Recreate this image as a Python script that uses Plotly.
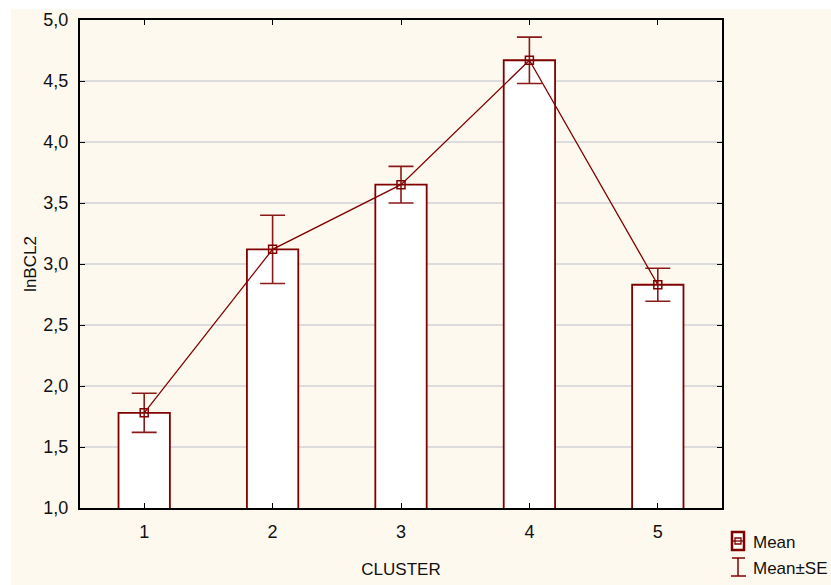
import plotly.graph_objects as go

clusters = ["1", "2", "3", "4", "5"]
means = [1.78, 3.12, 3.65, 4.67, 2.83]
se = [0.16, 0.28, 0.15, 0.19, 0.135]
y_ticks = [1.0, 1.5, 2.0, 2.5, 3.0, 3.5, 4.0, 4.5, 5.0]

RED = "#800000"
FONT = "Liberation Sans, Arial, sans-serif"

W, H = 831, 585
L, R, T, B = 80, 109, 20, 77
pw, ph = W - L - R, H - T - B

def px_x(p):
    return (p - L) / pw

def px_y(p):
    return 1 - (p - T) / ph

fig = go.Figure()
fig.add_trace(go.Bar(
    x=clusters, y=means, width=0.4,
    marker=dict(color="white", line=dict(color=RED, width=1.8)),
    showlegend=False, hoverinfo="skip",
))
fig.add_trace(go.Scatter(
    x=clusters, y=means, mode="lines+markers",
    line=dict(color=RED, width=1.3),
    marker=dict(symbol="square-open", size=8, color=RED, line=dict(width=1.5)),
    error_y=dict(type="data", array=se, visible=True, color="#8B1A1A",
                 thickness=1.6, width=12.5),
    showlegend=False,
))

shapes = [
    dict(type="rect", xref="paper", yref="paper", layer="below",
         x0=px_x(11), x1=px_x(W + 5), y0=px_y(H + 5), y1=px_y(9),
         fillcolor="#FEF9EE", line=dict(width=0)),
    # legend: Mean box
    dict(type="rect", xref="paper", yref="paper",
         x0=px_x(732), x1=px_x(744), y0=px_y(550), y1=px_y(532),
         fillcolor="white", line=dict(color=RED, width=2.5)),
    dict(type="rect", xref="paper", yref="paper",
         x0=px_x(735), x1=px_x(741), y0=px_y(544), y1=px_y(538),
         line=dict(color=RED, width=1.3)),
    dict(type="line", xref="paper", yref="paper",
         x0=px_x(732), x1=px_x(744), y0=px_y(541), y1=px_y(541),
         line=dict(color=RED, width=1.3)),
    # legend: I-shape
    dict(type="line", xref="paper", yref="paper",
         x0=px_x(738), x1=px_x(738), y0=px_y(558), y1=px_y(576),
         line=dict(color=RED, width=1.5)),
    dict(type="line", xref="paper", yref="paper",
         x0=px_x(732), x1=px_x(745), y0=px_y(558), y1=px_y(558),
         line=dict(color=RED, width=1.5)),
    dict(type="line", xref="paper", yref="paper",
         x0=px_x(731), x1=px_x(746), y0=px_y(576), y1=px_y(576),
         line=dict(color=RED, width=1.5)),
]

annotations = [
    dict(text="Mean", xref="paper", yref="paper", x=px_x(751), y=px_y(542),
         xanchor="left", yanchor="middle", showarrow=False,
         font=dict(family=FONT, size=17, color="#111")),
    dict(text="Mean±SE", xref="paper", yref="paper", x=px_x(751), y=px_y(568),
         xanchor="left", yanchor="middle", showarrow=False,
         font=dict(family=FONT, size=17, color="#111")),
]

fig.update_layout(
    width=W, height=H,
    margin=dict(l=L, r=R, t=T, b=B, pad=0, autoexpand=False),
    paper_bgcolor="white", plot_bgcolor="white",
    separators=", ",
    font=dict(family=FONT, size=18, color="#111"),
    shapes=shapes, annotations=annotations,
)
fig.update_xaxes(
    type="category", range=[-0.5, 4.5], automargin=False,
    showline=True, linecolor="black", linewidth=2, mirror="ticks",
    ticks="inside", ticklen=5, tickcolor="black",
    showgrid=False, zeroline=False, ticklabelstandoff=6,
    title=dict(text="CLUSTER", standoff=23, font=dict(size=17)),
    tickfont=dict(size=18),
)
fig.update_yaxes(
    range=[1.0, 5.0], tickvals=y_ticks, tickformat=".1f", automargin=False,
    showline=True, linecolor="black", linewidth=2, mirror="ticks",
    ticks="inside", ticklen=5, tickcolor="black",
    showgrid=True, gridcolor="#DCDCDC", gridwidth=1.5, zeroline=False,
    ticklabelstandoff=6,
    title=dict(text="lnBCL2", standoff=2, font=dict(size=17)),
    tickfont=dict(size=18),
)

fig.write_html("out.html")
